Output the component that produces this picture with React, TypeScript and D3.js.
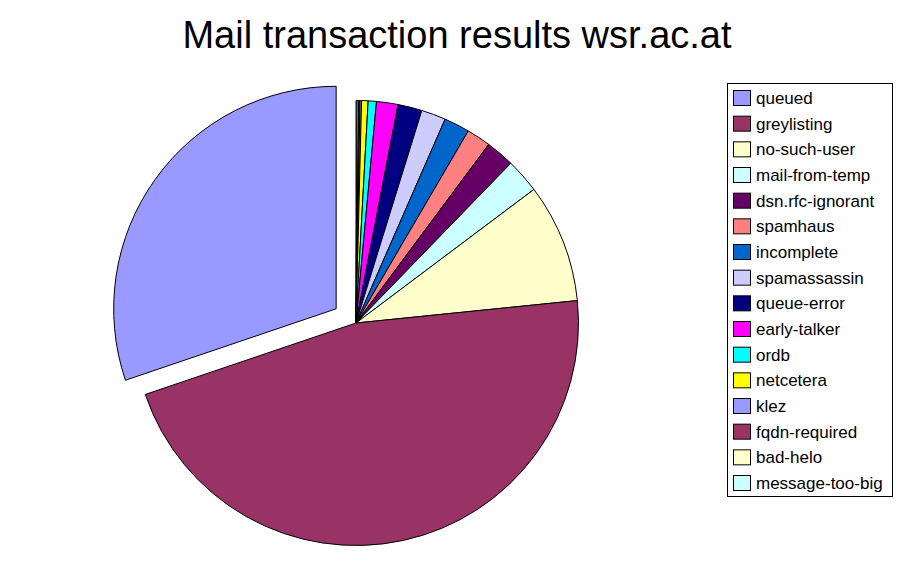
import React from "react";
import * as d3 from "d3";

const categories = [
  "queued", "greylisting", "no-such-user", "mail-from-temp", "dsn.rfc-ignorant",
  "spamhaus", "incomplete", "spamassassin", "queue-error", "early-talker",
  "ordb", "netcetera", "klez", "fqdn-required", "bad-helo", "message-too-big",
];
const values = [30.2, 46.4, 8.64, 2.5, 2.08, 1.75, 1.86, 1.78, 1.75, 1.56, 0.6, 0.47, 0.11, 0.1, 0.11, 0.08];
const colors = [
  "#9999FF", "#993366", "#FFFFCC", "#CCFFFF", "#660066", "#FF8080", "#0066CC", "#CCCCFF",
  "#000080", "#FF00FF", "#00FFFF", "#FFFF00", "#9999FF", "#993366", "#FFFFCC", "#CCFFFF",
];
const title = "Mail transaction results wsr.ac.at";

export default function App() {
  const W = 912, H = 581;
  const cx = 356, cy = 323, r = 222.5;
  const explode = 24.4;
  const items = categories.map((c, i) => ({ c, v: values[i], col: colors[i], i }));
  // drawn clockwise from 12 o'clock in reverse legend order
  const drawOrder = items.slice().reverse();
  const pie = d3.pie<any>().sort(null).value((d: any) => d.v).startAngle(0).endAngle(Math.PI * 2);
  const arcs = pie(drawOrder);
  const arcGen = d3.arc<any>().innerRadius(0).outerRadius(r);
  const font = "Arial, 'Liberation Sans', sans-serif";
  const rowY = d3.scaleLinear().domain([0, categories.length - 1]).range([98, 483]);
  return (
    <svg width={W} height={H} style={{ position: "absolute", left: 0, top: 0, background: "#fff" }}>
      <rect width={W} height={H} fill="#fff" />
      <text x={457} y={48} textAnchor="middle" fontFamily={font} fontSize={38} fill="#000">{title}</text>
      <g>
        {arcs.map((a: any, k: number) => {
          const d = a.data;
          let dx = 0, dy = 0;
          if (d.i === 0) {
            const mid = (a.startAngle + a.endAngle) / 2;
            dx = Math.sin(mid) * explode;
            dy = -Math.cos(mid) * explode;
          }
          return (
            <path key={k} d={arcGen(a) || ""} transform={`translate(${cx + dx},${cy + dy})`}
              fill={d.col} stroke="#000" strokeWidth={1} strokeLinejoin="round" />
          );
        })}
      </g>
      <rect x={727.5} y={83.5} width={165} height={413} fill="#fff" stroke="#000" strokeWidth={1} />
      {items.map((it, i) => (
        <g key={it.c}>
          <rect x={733.5} y={rowY(i) - 7.5} width={17} height={15} fill={it.col} stroke="#000" strokeWidth={1} />
          <text x={756} y={rowY(i) + 6} fontFamily={font} fontSize={17} fill="#000">{it.c}</text>
        </g>
      ))}
    </svg>
  );
}
